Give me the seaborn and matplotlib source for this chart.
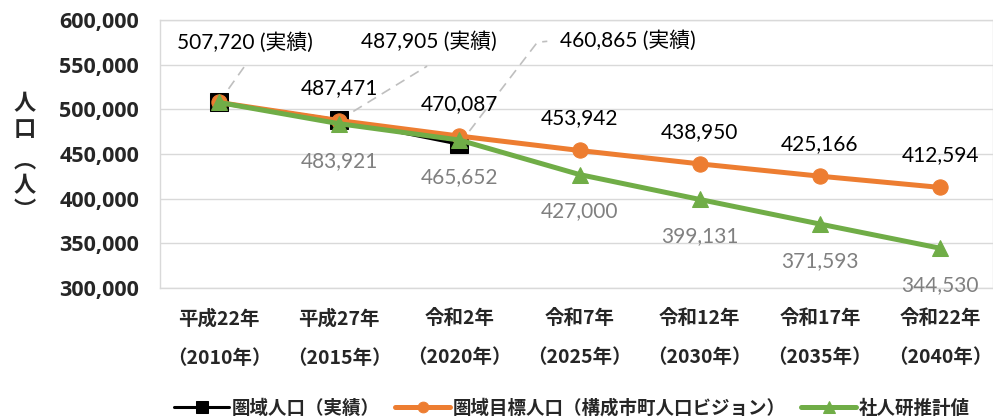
import matplotlib
matplotlib.use("Agg")
import matplotlib.pyplot as plt
import matplotlib.transforms as mtransforms
import seaborn as sns
import pandas as pd

# --- data ---
periods = ["平成22年\n（2010年）", "平成27年\n（2015年）", "令和2年\n（2020年）",
           "令和7年\n（2025年）", "令和12年\n（2030年）", "令和17年\n（2035年）",
           "令和22年\n（2040年）"]
actual = [507720, 487905, 460865]
target = [507720, 487471, 470087, 453942, 438950, 425166, 412594]
ipss = [507720, 483921, 465652, 427000, 399131, 371593, 344530]
series_names = ["圏域人口（実績）", "圏域目標人口（構成市町人口ビジョン）", "社人研推計値"]
y_ticks = [300000, 350000, 400000, 450000, 500000, 550000, 600000]
y_label_chars = ["人", "口", "︵", "人", "︶"]

sns.set_style("white")
plt.rcParams['font.family'] = ['Lato', 'Noto Sans CJK JP', 'DejaVu Sans']

BLACK, ORANGE, GREEN = "#000000", "#ED7D31", "#70AD47"
GRAY_TXT, GRID = "#808080", "#d9d9d9"
CJK = ['Noto Sans CJK JP']

fig = plt.figure(figsize=(9.93, 4.19), dpi=100)
ax = fig.add_axes([160 / 993, 131 / 419, 833 / 993, 268 / 419])

df_act = pd.DataFrame({"x": range(len(actual)), "y": actual})
df_tgt = pd.DataFrame({"x": range(len(target)), "y": target})
df_ips = pd.DataFrame({"x": range(len(ipss)), "y": ipss})

sns.lineplot(data=df_act, x="x", y="y", ax=ax, color=BLACK, linewidth=2.2,
             marker="s", markersize=13, markeredgecolor=BLACK, label=series_names[0])
sns.lineplot(data=df_tgt, x="x", y="y", ax=ax, color=ORANGE, linewidth=3.6,
             marker="o", markersize=11, markeredgecolor=ORANGE, label=series_names[1])
sns.lineplot(data=df_ips, x="x", y="y", ax=ax, color=GREEN, linewidth=3.6,
             marker="^", markersize=12, markeredgecolor=GREEN, label=series_names[2])

ax.set_xlim(-0.49, 6.44)
ax.set_ylim(y_ticks[0], y_ticks[-1])
ax.set_yticks(y_ticks)
ax.set_yticklabels([f"{v:,}" for v in y_ticks], fontsize=15.5, fontweight="bold",
                   family=['Open Sans'])
ax.set_xticks(range(len(periods)))
ax.set_xticklabels(periods, fontsize=14, fontweight="bold", family=CJK, linespacing=2.35)
ax.tick_params(axis="y", length=0, pad=15)
ax.tick_params(axis="x", direction="in", length=4, color=GRID, pad=15)
ax.grid(axis="y", color=GRID, linewidth=1)
for sp in ax.spines.values():
    sp.set_color(GRID)
    sp.set_linewidth(1)
ax.set_xlabel("")
ax.set_ylabel("")

def offset(dx, dy):
    return mtransforms.offset_copy(ax.transData, fig=fig, x=dx, y=dy, units="dots")

# orange labels above, green labels below (skip first point)
for i in range(1, len(target)):
    ax.text(i, target[i], f"{target[i]:,}", transform=offset(0, 32),
            ha="center", va="center", fontsize=15, color="black")
for i in range(1, len(ipss)):
    ax.text(i, ipss[i], f"{ipss[i]:,}", transform=offset(0, -37),
            ha="center", va="center", fontsize=15, color=GRAY_TXT)

# actual labels with dashed leader lines
act_text = [(26, 60), (90, 79), (169, 104)]
act_lead = [(27, 38), (88, 54), (78, 102)]
for i, v in enumerate(actual):
    tdx, tdy = act_text[i]
    ax.text(i, v, f"{v:,} (実績)", transform=offset(tdx, tdy),
            ha="center", va="center", fontsize=15, color="black")
    ldx, ldy = act_lead[i]
    tr = ax.transData
    px, py = tr.transform((i, v))
    pts = [(px, py), (px + ldx, py + ldy)]
    if i == 2:
        pts.append((px + ldx + 10, py + ldy + 1))
    inv = tr.inverted()
    dpts = [inv.transform(p) for p in pts]
    ax.plot([p[0] for p in dpts], [p[1] for p in dpts], color="#bfbfbf",
            linewidth=1.2, linestyle=(0, (6, 4)), zorder=1)

# vertical y-axis label, one glyph at a time
label_y = [104, 129, 161, 186, 210]
for ch, yy in zip(y_label_chars, label_y):
    fig.text(25 / 993, 1 - yy / 419, ch, ha="center", va="center",
             fontsize=16, fontweight="bold", family=CJK)

handles, labels = ax.get_legend_handles_labels()
ax.get_legend().remove()
fig.legend(handles, labels, loc="center", bbox_to_anchor=(572 / 993, 1 - 408 / 419),
           ncol=3, frameon=False, handlelength=3.0, handletextpad=0.15,
           columnspacing=0.8, markerscale=0.7,
           prop={"family": CJK, "weight": "bold", "size": 13.3})

fig.savefig("out.png", dpi=100)
